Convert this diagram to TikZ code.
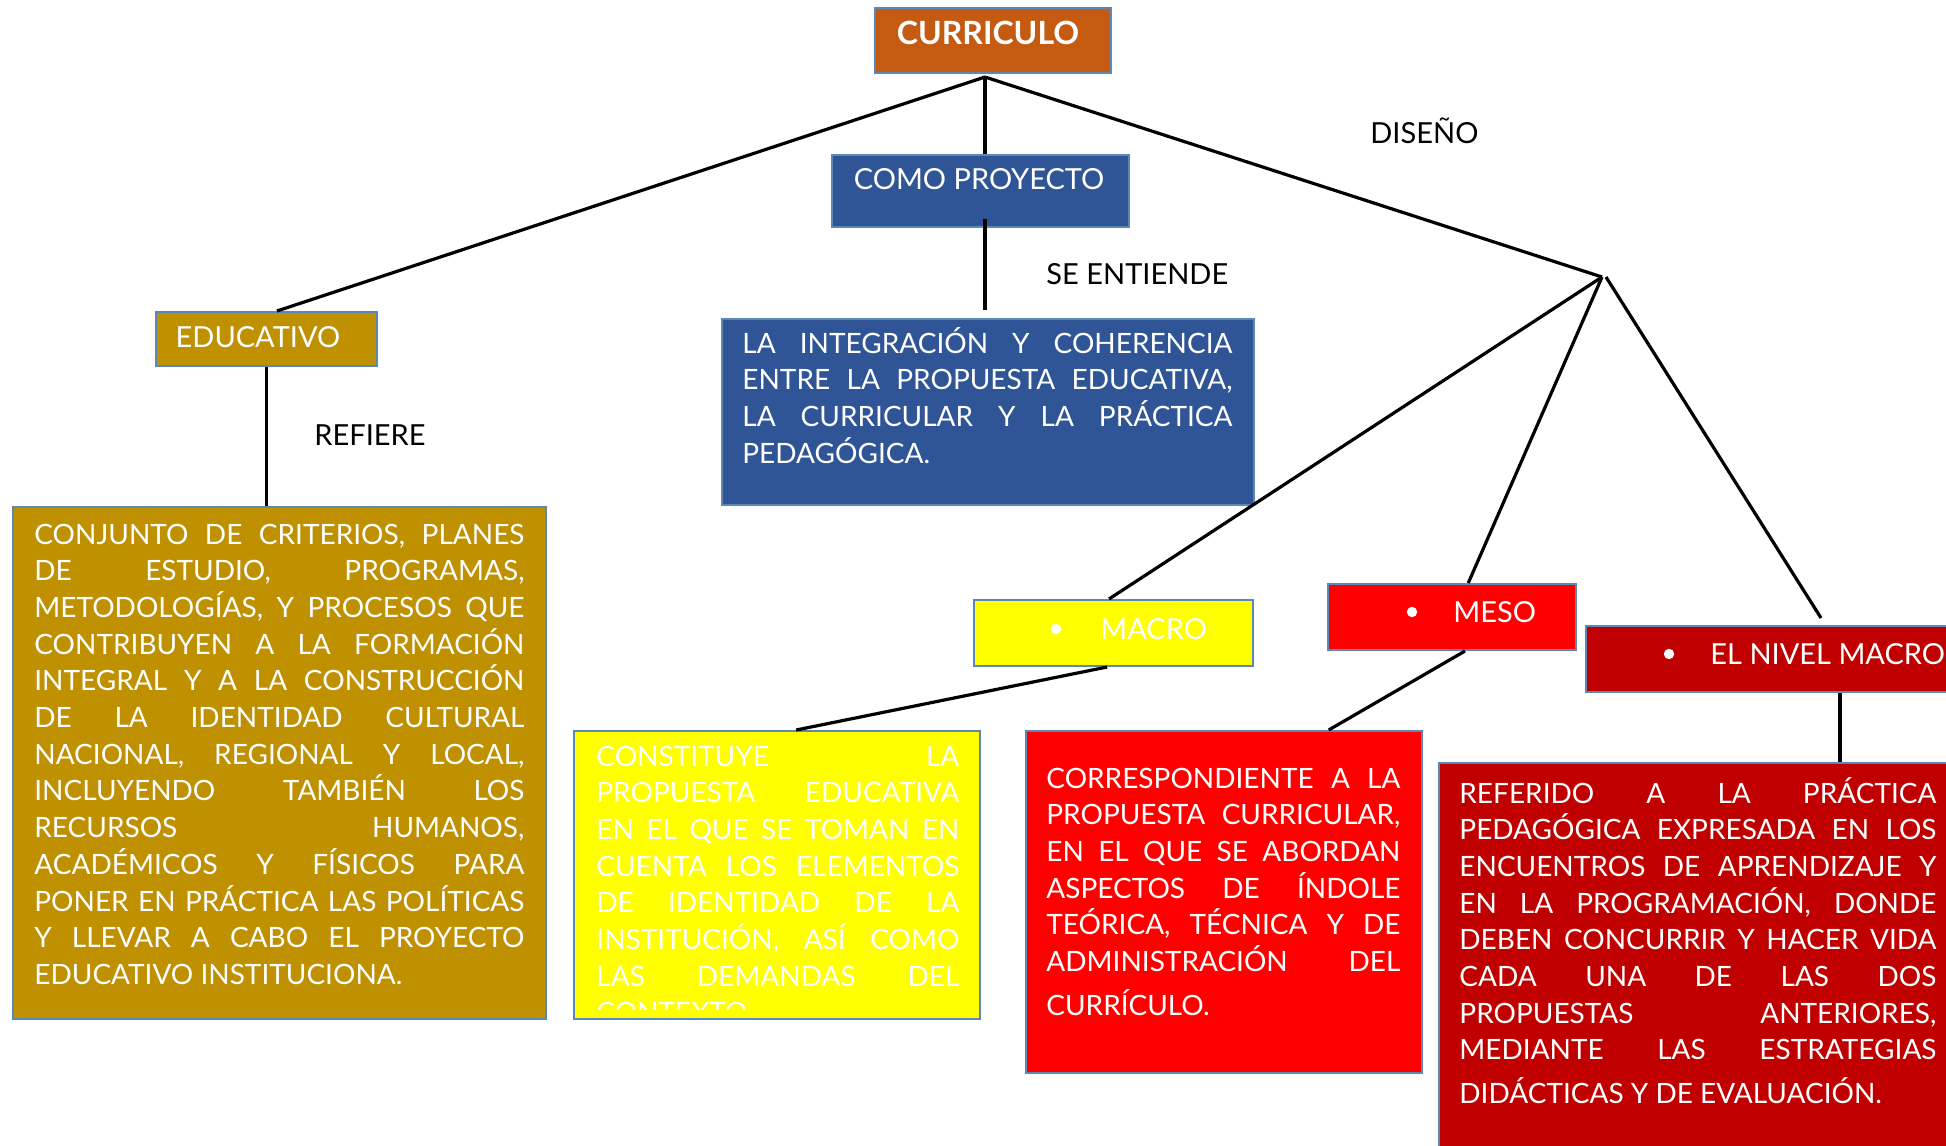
\documentclass[tikz,border=0pt]{standalone}
\usepackage{fontspec}
\setmainfont{Lato}
\usetikzlibrary{calc}
\definecolor{cOrange}{HTML}{C55A11}
\definecolor{cBlue}{HTML}{2F5597}
\definecolor{cGold}{HTML}{BF9000}
\definecolor{cYellow}{HTML}{FFFF00}
\definecolor{cRed}{HTML}{FF0000}
\definecolor{cDark}{HTML}{C00000}
\definecolor{cBorder}{HTML}{5B87B9}
\newcommand\myfont{\fontsize{14}{18.35}\selectfont}
\newcommand\mylabel{\fontsize{14.5}{18.35}\selectfont}
\newcommand\mybold{\fontsize{16}{18}\selectfont\bfseries}
\tolerance=10000 \hyphenpenalty=10000 \exhyphenpenalty=10000 \hbadness=10000
\tikzset{
  box/.style={draw=cBorder, line width=1pt, fill=#1, rectangle, inner sep=0pt, anchor=north west},
  para/.style={text=white, anchor=base west, inner sep=0pt, align=justify, font=\myfont},
  word/.style={text=white, inner sep=0pt, font=\mylabel},
  lbl/.style={text=black, inner sep=0pt, font=\mylabel, anchor=base west},
  conn/.style={line width=1.6pt, black},
  dot/.style={fill=white}
}
\begin{document}
\begin{tikzpicture}[x=0.5pt,y=-0.5pt]
\useasboundingbox (0,0) rectangle (1946,1145);

% boxes
\node[box=cOrange, minimum width=118pt, minimum height=32.5pt] (cur) at (874,7) {};
\node[box=cBlue, minimum width=148.5pt, minimum height=36pt] (proj) at (831,154) {};
\node[box=cGold, minimum width=110.5pt, minimum height=27pt] (edu) at (155,311) {};
\node[box=cGold, minimum width=266.5pt, minimum height=256pt] (big) at (12,506) {};
\node[box=cBlue, minimum width=266pt, minimum height=93pt] (integ) at (721,318) {};
\node[box=cYellow, minimum width=139.5pt, minimum height=33pt] (macro) at (973,599) {};
\node[box=cRed, minimum width=124pt, minimum height=33pt] (meso) at (1327,583) {};
\node[box=cDark, minimum width=190pt, minimum height=33pt] (nivel) at (1585,625) {};
\node[box=cYellow, minimum width=203pt, minimum height=144pt] (cons) at (573,730) {};
\node[box=cRed, minimum width=198pt, minimum height=171pt] (corr) at (1025,730) {};
\node[box=cDark, minimum width=260pt, minimum height=200pt] (refe) at (1438,762) {};

% titles
\node[word, font=\mybold, anchor=base] (curt) at (988,45) {CURRICULO};
\node[word, anchor=base] (projt) at (979,189) {COMO PROYECTO};
\node[word, anchor=base] (edut) at (258,347) {EDUCATIVO};
\fill[dot] (1056,629) circle[radius=2.6pt];
\node[word, anchor=base west] (macrot) at (1100,639) {MACRO};
\fill[dot] (1412,612) circle[radius=2.6pt];
\node[word, anchor=base west] (mesot) at (1453,622) {MESO};
\fill[dot] (1669,654) circle[radius=2.6pt];
\node[word, anchor=base west] (nivelt) at (1710,664) {EL NIVEL MACRO};

% labels
\node[lbl] (ldis) at (1370,143) {DISEÑO};
\node[lbl] (lse) at (1046,284) {SE ENTIENDE};
\node[lbl] (lref) at (314,445) {REFIERE};

% paragraphs
\node[para, text width=245pt] (bigt) at (34,544) {CONJUNTO DE CRITERIOS, PLANES\linebreak
DE ESTUDIO, PROGRAMAS,\linebreak
METODOLOGÍAS, Y PROCESOS QUE\linebreak
CONTRIBUYEN A LA FORMACIÓN\linebreak
INTEGRAL Y A LA CONSTRUCCIÓN\linebreak
DE LA IDENTIDAD CULTURAL\linebreak
NACIONAL, REGIONAL Y LOCAL,\linebreak
INCLUYENDO TAMBIÉN LOS\linebreak
RECURSOS HUMANOS,\linebreak
ACADÉMICOS Y FÍSICOS PARA\linebreak
PONER EN PRÁCTICA LAS POLÍTICAS\linebreak
Y LLEVAR A CABO EL PROYECTO\linebreak
EDUCATIVO INSTITUCIONA.};

\node[para, text width=245pt] (integt) at (742,353) {LA INTEGRACIÓN Y COHERENCIA\linebreak
ENTRE LA PROPUESTA EDUCATIVA,\linebreak
LA CURRICULAR Y LA PRÁCTICA\linebreak
PEDAGÓGICA.};

\begin{scope}
\clip (573,730) rectangle (979,1009);
\node[para, text width=181.5pt] (const) at (596,766) {CONSTITUYE LA\linebreak
PROPUESTA EDUCATIVA\linebreak
EN EL QUE SE TOMAN EN\linebreak
CUENTA LOS ELEMENTOS\linebreak
DE IDENTIDAD DE LA\linebreak
INSTITUCIÓN, ASÍ COMO\linebreak
LAS DEMANDAS DEL\linebreak
CONTEXTO.};
\end{scope}

\node[para, text width=177pt] (corrt) at (1046,788) {CORRESPONDIENTE A LA\linebreak
PROPUESTA CURRICULAR,\linebreak
EN EL QUE SE ABORDAN\linebreak
ASPECTOS DE ÍNDOLE\linebreak
TEÓRICA, TÉCNICA Y DE\linebreak
ADMINISTRACIÓN DEL\vspace{3.5pt}\linebreak
CURRÍCULO.};

\node[para, text width=238.5pt] (refet) at (1459,803) {REFERIDO A LA PRÁCTICA\linebreak
PEDAGÓGICA EXPRESADA EN LOS\linebreak
ENCUENTROS DE APRENDIZAJE Y\linebreak
EN LA PROGRAMACIÓN, DONDE\linebreak
DEBEN CONCURRIR Y HACER VIDA\linebreak
CADA UNA DE LAS DOS\linebreak
PROPUESTAS ANTERIORES,\linebreak
MEDIANTE LAS ESTRATEGIAS\vspace{3.5pt}\linebreak
DIDÁCTICAS Y DE EVALUACIÓN.};

% connectors
\coordinate (top) at ($(cur.south)+(-8,3)$);
\coordinate (dis) at (1602,277);
\coordinate (nb) at ($(nivel.south west)+(255,0)$);
\draw[conn] (top) -- ($(edu.north west)!0.547!(edu.north east)$);
\draw[conn] (top) -- (top |- proj.north);
\draw[conn] (top) -- (dis);
\draw[conn] ($(top |- proj.south)+(0,-9)$) -- ($(top |- integ.north)+(0,-8)$);
\draw[conn] (edu.south) -- (edu.south |- big.north);
\draw[conn] (dis) -- ($(macro.north west)!0.484!(macro.north east)$);
\draw[conn] (dis) -- ($(meso.north west)!0.565!(meso.north east)$);
\draw[conn] ($(dis)+(4,0)$) -- ($(nivel.north west)+(236,-7)$);
\draw[conn] ($(macro.south west)!0.477!(macro.south east)$) -- ($(cons.north west)!0.547!(cons.north east)$);
\draw[conn] ($(meso.south west)!0.552!(meso.south east)$) -- ($(corr.north west)!0.763!(corr.north east)$);
\draw[conn] (nb) -- (nb |- refe.north);
\end{tikzpicture}
\end{document}
